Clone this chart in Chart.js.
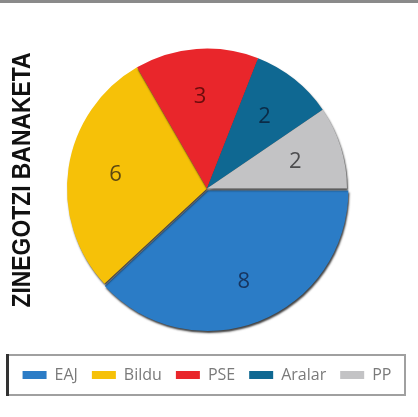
<!DOCTYPE html>
<html>
<head>
<meta charset="utf-8">
<script src="https://cdn.jsdelivr.net/npm/chart.js@4/dist/chart.umd.min.js"></script>
<style>
  html, body { margin: 0; padding: 0; background: #fff; }
  #wrap { width: 418px; height: 417px; }
</style>
</head>
<body>
<div id="wrap"><canvas id="seatsChart" width="418" height="417"></canvas></div>
<script>
// --- Datuak ---
const title = 'ZINEGOTZI BANAKETA';
const parties = ['EAJ', 'Bildu', 'PSE', 'Aralar', 'PP'];
const seats = [8, 6, 3, 2, 2];
const sliceColors = ['#2b7cc6', '#f6c108', '#e9262b', '#0f6892', '#c3c3c5'];
const labelColors = ['#17355f', '#5b4712', '#6b0c0c', '#0b2b47', '#4d4d4f'];
const explode = [8, 0, 0, 0, 0];

// slice numbers
const sliceNumbers = {
    id: 'sliceNumbers',
    afterDatasetsDraw(chart) {
        const ctx = chart.ctx;
        const meta = chart.getDatasetMeta(0);
        ctx.save();
        ctx.font = '22px "Open Sans", sans-serif';
        ctx.textAlign = 'center';
        ctx.textBaseline = 'middle';
        meta.data.forEach((arc, i) => {
            const p = arc.getProps(['x', 'y', 'startAngle', 'endAngle', 'outerRadius'], true);
            const mid = (p.startAngle + p.endAngle) / 2;
            const r = p.outerRadius * 0.66;
            const off = explode[i];
            ctx.fillStyle = labelColors[i];
            ctx.fillText(String(seats[i]),
                p.x + Math.cos(mid) * (r + off),
                p.y + Math.sin(mid) * (r + off));
        });
        ctx.restore();
    }
};

// shadow under the pie, top rule, legend frame, vertical title
const decor = {
    id: 'decor',
    beforeDatasetsDraw(chart) {
        const ctx = chart.ctx;
        ctx.save();
        ctx.shadowColor = 'rgba(0,0,0,0.75)';
        ctx.shadowBlur = 2;
        ctx.shadowOffsetX = 1;
        ctx.shadowOffsetY = 2;
    },
    afterDatasetsDraw(chart) {
        chart.ctx.restore();
    },
    afterDraw(chart) {
        const ctx = chart.ctx;
        const hb = chart.legend.legendHitBoxes[0];
        const cy = hb.top + hb.height / 2;
        ctx.save();
        // top rule
        ctx.fillStyle = '#8a8a8a';
        ctx.fillRect(0, 0, chart.width, 3);
        // legend frame
        ctx.strokeStyle = '#a0a0a0';
        ctx.lineWidth = 2;
        ctx.strokeRect(7, cy - 20, 398, 40);
        ctx.fillStyle = '#333';
        ctx.fillRect(6, cy - 21, 3, 42);
        // title
        ctx.translate(22, 180);
        ctx.rotate(-Math.PI / 2);
        ctx.font = 'bold 25px "Liberation Sans", sans-serif';
        const w = ctx.measureText(title).width;
        ctx.scale(255 / w, 1);
        ctx.fillStyle = '#111';
        ctx.textAlign = 'center';
        ctx.textBaseline = 'middle';
        ctx.fillText(title, 0, 1);
        ctx.restore();
    }
};

new Chart(document.getElementById('seatsChart'), {
    type: 'pie',
    data: {
        labels: parties,
        datasets: [{
            data: seats,
            backgroundColor: sliceColors,
            borderWidth: 0,
            offset: explode,
            hoverOffset: 0
        }]
    },
    options: {
        responsive: false,
        animation: false,
        rotation: 90,
        radius: 140,
        layout: { padding: { top: 24, right: 6, bottom: 24, left: 2 } },
        plugins: {
            legend: {
                position: 'bottom',
                labels: {
                    boxWidth: 24,
                    boxHeight: 8,
                    padding: 14,
                    color: '#7a7a7a',
                    font: { family: '"Open Sans", sans-serif', size: 16 }
                }
            },
            tooltip: { enabled: false }
        }
    },
    plugins: [decor, sliceNumbers]
});
</script>
</body>
</html>
